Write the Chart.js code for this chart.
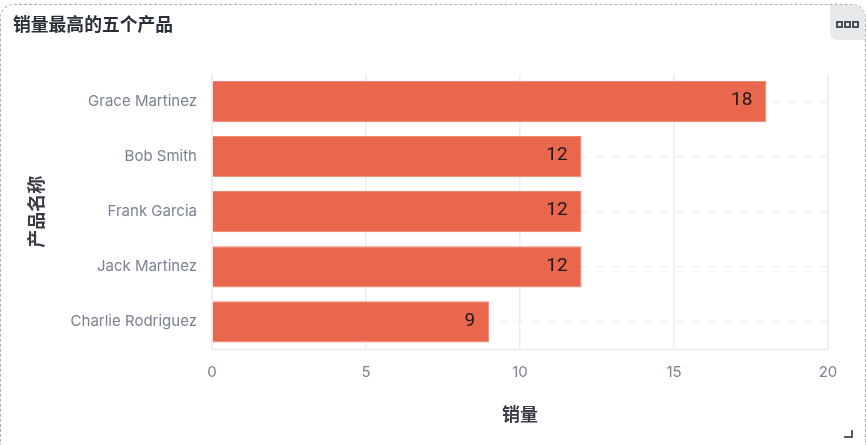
<!DOCTYPE html>
<html><head><meta charset="utf-8">
<script src="https://cdn.jsdelivr.net/npm/chart.js@4/dist/chart.umd.js"></script>
<style>
html,body{margin:0;padding:0;background:#fff;width:866px;height:445px;overflow:hidden}
#card{position:absolute;left:0;top:4px;width:866px;height:460px;box-sizing:border-box;border:1px dashed #a9aebb;border-radius:14px;}
#title{position:absolute;left:13px;top:10px;font:bold 17.8px/26px "Noto Sans CJK SC";color:#2b2f38;white-space:nowrap}
#btn{position:absolute;left:830px;top:5px;width:35px;height:35px;background:#e8e9eb;border-radius:0 12px 0 8px}
#btn i{position:absolute;top:16px;width:3px;height:3px;border:2px solid #4b4f5a;background:#e8e9eb}
#cv{position:absolute;left:0;top:0}
#grip{position:absolute;left:844px;top:430px;width:9px;height:8px;box-sizing:border-box;border-right:2px solid #555b68;border-bottom:2px solid #555b68;clip-path:polygon(60% 0,100% 0,100% 100%,0 100%,0 60%,60% 60%)}
</style></head><body>
<div id="card"></div>
<canvas id="cv" width="866" height="445" style="width:866px;height:445px"></canvas>
<div id="title">销量最高的五个产品</div>
<div id="btn"><i style="left:6px"></i><i style="left:14px"></i><i style="left:22px"></i></div>
<div id="grip"></div>
<script>
const categories=["Grace Martinez","Bob Smith","Frank Garcia","Jack Martinez","Charlie Rodriguez"];
const salesValues=[18,12,12,12,9];
const xTicks=[0,5,10,15,20];
const seriesName="销量";
const xTitle="销量";
const yTitle="产品名称";
const valueLabels={id:'valueLabels',afterDatasetsDraw(c){
  const g=c.ctx,meta=c.getDatasetMeta(0);
  g.save();g.font='19px Roboto';g.fillStyle='#1a1a1a';g.textAlign='right';g.textBaseline='middle';
  meta.data.forEach((b,i)=>g.fillText(String(salesValues[i]),b.x-14,b.y-1));
  g.restore();
}};
const axisFrame={id:'axisFrame',beforeDatasetsDraw(c){
  const g=c.ctx,a=c.chartArea;
  g.save();g.strokeStyle='#eff0f6';g.lineWidth=2;g.beginPath();
  g.moveTo(a.left,a.top);g.lineTo(a.left,a.bottom);g.lineTo(a.right,a.bottom);g.lineTo(a.right,a.top);g.stroke();
  g.restore();
}};
new Chart(document.getElementById('cv'),{
  type:'bar',
  data:{labels:categories,datasets:[{label:seriesName,data:salesValues,backgroundColor:'#e9674d',borderColor:'#ee8671',borderWidth:1,barPercentage:0.75,categoryPercentage:1}]},
  plugins:[axisFrame,valueLabels],
  options:{indexAxis:'y',responsive:false,animation:false,devicePixelRatio:1,
    layout:{padding:{left:25,right:38,top:74,bottom:20}},
    plugins:{legend:{display:false},title:{display:false},tooltip:{enabled:false}},
    scales:{
      x:{type:'linear',min:0,max:20,afterBuildTicks(s){s.ticks=xTicks.map(v=>({value:v}));},
        grid:{color:'#eceef6',lineWidth:1.5,drawTicks:false},border:{display:false},
        ticks:{color:'#7b8190',font:{family:'Inter',size:15},padding:14,maxRotation:0},
        title:{display:true,text:xTitle,color:'#3a3d46',font:{family:'"Noto Sans CJK SC"',size:18,weight:'bold'},padding:{top:8,bottom:0}}},
      y:{grid:{color:'#f0f1f6',lineWidth:1.5,drawTicks:false,offset:false},border:{display:false,dash:[8,8]},
        ticks:{color:'#7b8190',font:{family:'Inter',size:15},padding:15},
        title:{display:true,text:yTitle,color:'#3a3d46',font:{family:'"Noto Sans CJK SC"',size:18,weight:'bold'},padding:{top:0,bottom:9}}}
    }
  }
});
</script></body></html>
